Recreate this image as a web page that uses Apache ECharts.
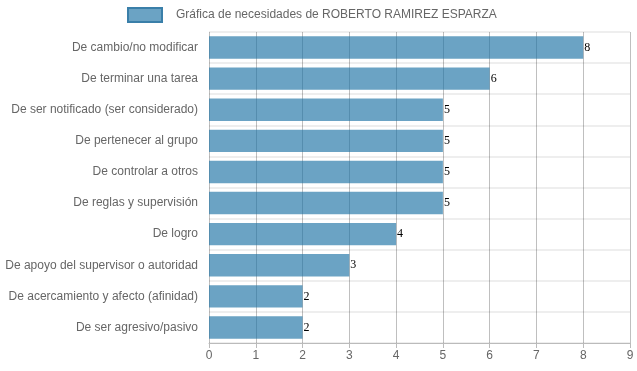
<!DOCTYPE html>
<html><head><meta charset="utf-8">
<script src="https://cdn.jsdelivr.net/npm/echarts@6/dist/echarts.min.js"></script>
<style>html,body{margin:0;padding:0;background:#fff}#c{width:637px;height:371px}</style>
</head><body><div id="c"></div>
<script>
const categories = ["De cambio/no modificar","De terminar una tarea","De ser notificado (ser considerado)","De pertenecer al grupo","De controlar a otros","De reglas y supervisión","De logro","De apoyo del supervisor o autoridad","De acercamiento y afecto (afinidad)","De ser agresivo/pasivo"];
const values = [8,6,5,5,5,5,4,3,2,2];
const seriesName = "Gráfica de necesidades de ROBERTO RAMIREZ ESPARZA";
const xTicks = {min:0, max:9, interval:1};

const chart = echarts.init(document.getElementById('c'));
chart.setOption({
  animation:false,
  textStyle:{fontFamily:'Liberation Sans, Arial, sans-serif'},
  legend:{
    left:127, top:7, padding:0, icon:'rect', itemWidth:34, itemHeight:14,
    data:[seriesName],
    textStyle:{color:'#666', fontSize:12, padding:[0,0,0,9]},
    itemStyle:{borderColor:'#3a7fa9', borderWidth:2}
  },
  grid:{left:209, right:7, top:32, bottom:28, containLabel:false},
  xAxis:{
    type:'value', min:xTicks.min, max:xTicks.max, interval:xTicks.interval,
    axisLine:{show:true, lineStyle:{color:'#bbb'}},
    axisTick:{show:true, length:5, lineStyle:{color:'#bbb'}},
    axisLabel:{color:'#666', fontSize:12, margin:7},
    splitLine:{show:true, lineStyle:{color:'rgba(0,0,0,0.25)', width:1}}
  },
  yAxis:{
    type:'category', data:categories, inverse:true,
    axisLine:{show:false}, axisTick:{show:false},
    axisLabel:{color:'#666', fontSize:12, margin:11},
    splitLine:{show:true, lineStyle:{color:'#eeeeee', width:2}}
  },
  series:[{
    name:seriesName, type:'bar', data:values, barCategoryGap:'28%',
    itemStyle:{color:'rgba(30,115,165,0.66)'},
    label:{show:true, position:'right', distance:1, color:'#000', fontSize:12, fontFamily:'Liberation Serif, Times New Roman, serif'}
  }]
});
</script></body></html>
